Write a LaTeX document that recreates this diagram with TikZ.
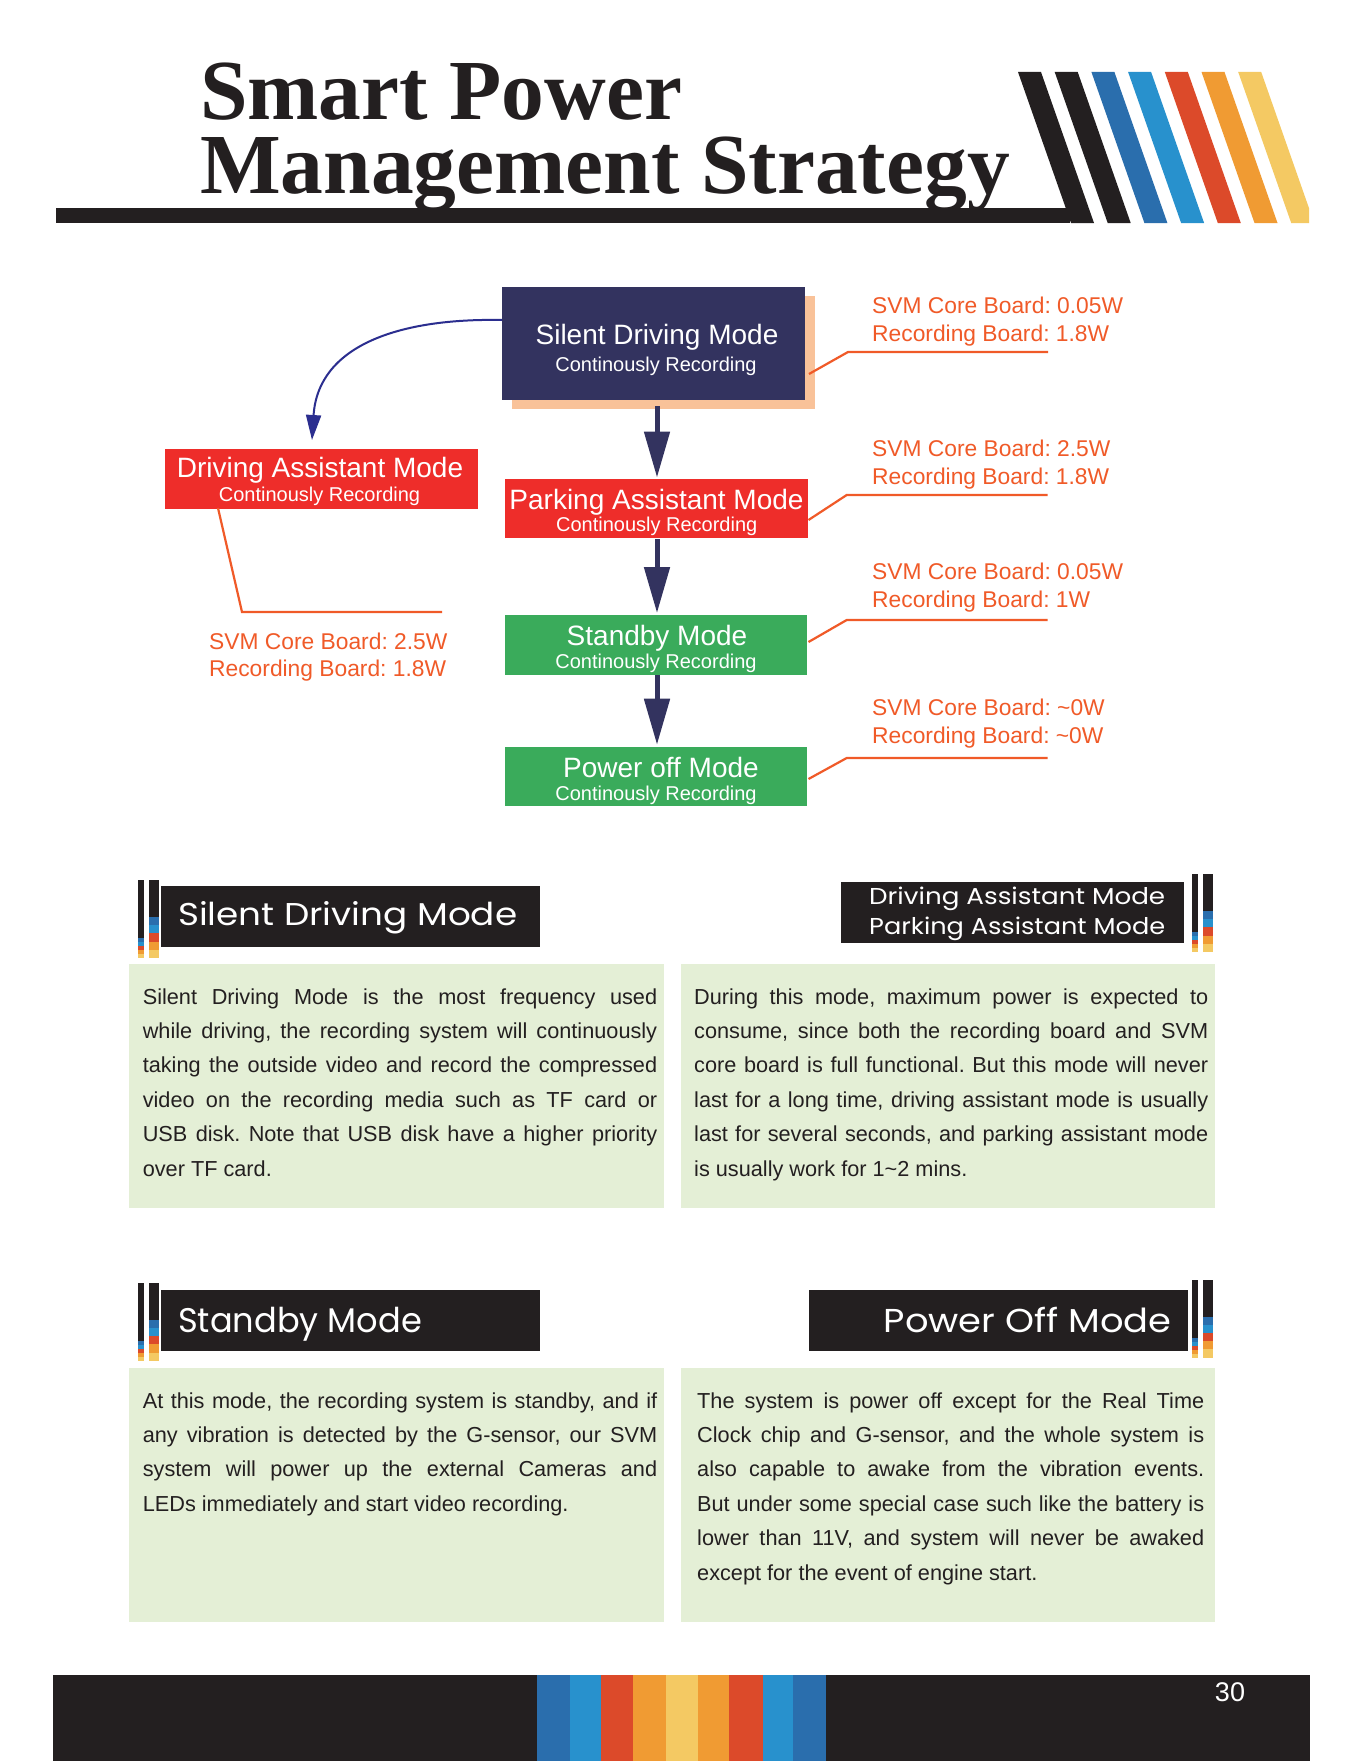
\documentclass[tikz,border=0pt]{standalone}
\usepackage{fontspec}
\usepackage{graphicx}
\setmainfont{Liberation Sans}
\newfontfamily\titlefont{Liberation Serif}
\newfontfamily\headfont{Poppins}
\usetikzlibrary{arrows.meta,shadows,calc}
\frenchspacing
\definecolor{navy}{HTML}{33335F}
\definecolor{peach}{HTML}{F9C299}
\definecolor{boxred}{HTML}{EE2D2A}
\definecolor{boxgreen}{HTML}{3AAB5B}
\definecolor{lblorange}{HTML}{F05A28}
\definecolor{curveblue}{HTML}{2B2E8F}
\definecolor{panelgreen}{HTML}{E4EFD6}
\definecolor{ink}{HTML}{231F20}
\definecolor{sdblue}{HTML}{2A6EAD}
\definecolor{slblue}{HTML}{2891CD}
\definecolor{sred}{HTML}{DC4A2A}
\definecolor{sorange}{HTML}{F09B33}
\definecolor{syellow}{HTML}{F4C963}
\tikzset{
  modebox/.style={rectangle, inner sep=0pt, outer sep=0pt},
  boxtitle/.style={text=white, inner sep=0pt, anchor=base, font=\fontsize{28}{30}\selectfont},
  boxsub/.style={text=white, inner sep=0pt, anchor=base, font=\fontsize{20}{22}\selectfont},
  lbl/.style={text=lblorange, inner sep=0pt, anchor=base west, font=\fontsize{22.8}{25}\selectfont},
  conn/.style={draw=lblorange, line width=2.2pt},
  varrow/.style={draw=navy, line width=5pt, -{Triangle[length=46pt,width=25pt]}},
  curvearrow/.style={draw=curveblue, line width=2pt, -{Triangle[length=25pt,width=15pt]}},
  headtext/.style={text=white, inner sep=0pt, font=\headfont\fontsize{30}{32}\selectfont},
  paratext/.style={text=ink, inner sep=0pt, anchor=north west, align=justify,
     font=\fontsize{21.7}{34.4}\selectfont},
  sidebars/.pic={
    \fill[ink] (0,0) rectangle (6,58);
    \fill[sdblue] (0,58) rectangle (6,62);
    \fill[slblue] (0,62) rectangle (6,66);
    \fill[sred] (0,66) rectangle (6,70);
    \fill[sorange] (0,70) rectangle (6,74);
    \fill[syellow] (0,74) rectangle (6,78);
    \fill[ink] (11,0) rectangle (21,37);
    \fill[sdblue] (11,37) rectangle (21,45.2);
    \fill[slblue] (11,45.2) rectangle (21,53.4);
    \fill[sred] (11,53.4) rectangle (21,61.6);
    \fill[sorange] (11,61.6) rectangle (21,69.8);
    \fill[syellow] (11,69.8) rectangle (21,78);
  }
}
\begin{document}
\begin{tikzpicture}[x=1pt,y=-1pt]
\useasboundingbox (0,0) rectangle (1361,1761);
\fill[white] (0,0) rectangle (1361,1761);

% ---------- title ----------
\node[anchor=base west, inner sep=0pt, align=left, text=ink, font=\titlefont\bfseries\fontsize{85.5}{74}\selectfont] (title) at (200,193) {Smart Power\\Management Strategy};
\fill[ink] (56,208) rectangle (1070,223);
\begin{scope}
  \clip (0,0) rectangle (1309,240);
  \foreach \i/\c in {0/ink,1/ink,2/sdblue,3/slblue,4/sred,5/sorange,6/syellow}{
    \fill[\c] ({1018+36.7*\i},72) -- ({1041+36.7*\i},72) -- ({1094+36.7*\i},223) -- ({1071+36.7*\i},223) -- cycle;
  }
\end{scope}

% ---------- mode boxes ----------
\node[modebox, fill=navy, minimum width=303pt, minimum height=113pt,
      drop shadow={shadow xshift=10pt, shadow yshift=-9pt, fill=peach, opacity=1}] (silent) at (653.5,343.5) {};
\node[modebox, fill=boxred, minimum width=313pt, minimum height=60pt] (da) at (321.5,479) {};
\node[modebox, fill=boxred, minimum width=303pt, minimum height=59.5pt] (parking) at (656.5,508.25) {};
\node[modebox, fill=boxgreen, minimum width=302pt, minimum height=60pt] (standby) at (656,645) {};
\node[modebox, fill=boxgreen, minimum width=302pt, minimum height=59.6pt] (poweroff) at (656,776.5) {};

\node[boxtitle] (silentT) at (657,344) {Silent Driving Mode};
\node[boxsub] (silentS) at (656,371) {Continously Recording};
\node[boxtitle] (daT) at (320,477.7) {Driving Assistant Mode};
\node[boxsub] (daS) at (319.5,501.7) {Continously Recording};
\node[boxtitle] (parkT) at (656.5,509) {Parking Assistant Mode};
\node[boxsub] (parkS) at (656.7,531.7) {Continously Recording};
\node[boxtitle] (stT) at (657,645.5) {Standby Mode};
\node[boxsub] (stS) at (656,668) {Continously Recording};
\node[boxtitle] (poT) at (661,777) {Power off Mode};
\node[boxsub] (poS) at (656,800) {Continously Recording};

% arrows
\draw[varrow] ([xshift=3.5pt,yshift=-6pt]silent.south) -- ([xshift=0.5pt,yshift=1pt]parking.north);
\draw[varrow] ([xshift=0.5pt,yshift=-1pt]parking.south) -- ([xshift=1pt,yshift=2pt]standby.north);
\draw[varrow] ([xshift=1pt]standby.south) -- ([xshift=1pt,yshift=2pt]poweroff.north);
\draw[curvearrow] ([yshift=23.5pt]silent.west) .. controls (400,318) and (318,345) .. ([xshift=-9.5pt,yshift=9pt]da.north);

% orange connectors
\coordinate (k1) at (848,352);   \coordinate (e1) at (1048,352);
\coordinate (k2) at (846.7,495); \coordinate (e2) at (1047.6,495);
\coordinate (k3) at (846.7,620); \coordinate (e3) at (1047.6,620);
\coordinate (k4) at (846.7,758); \coordinate (e4) at (1047.6,758);
\coordinate (k5) at (242,612);   \coordinate (e5) at (442,612);
\draw[conn] ([xshift=4pt,yshift=-30.5pt]silent.east) -- (k1) -- (e1);
\draw[conn] ([xshift=0.5pt,yshift=-11.75pt]parking.east) -- (k2) -- (e2);
\draw[conn] ([xshift=1.5pt,yshift=3pt]standby.east) -- (k3) -- (e3);
\draw[conn] ([xshift=1.5pt,yshift=-2.5pt]poweroff.east) -- (k4) -- (e4);
\draw[conn] ([xshift=-103.5pt,yshift=1pt]da.south) -- (k5) -- (e5);

% labels
\node[lbl] (l1a) at (872,313.5) {SVM Core Board: 0.05W};
\node[lbl] (l1b) at (872,341.5) {Recording Board: 1.8W};
\node[lbl] (l2a) at (872,456) {SVM Core Board: 2.5W};
\node[lbl] (l2b) at (872,484) {Recording Board: 1.8W};
\node[lbl] (l3a) at (872,579) {SVM Core Board: 0.05W};
\node[lbl] (l3b) at (872,607) {Recording Board: 1W};
\node[lbl] (l4a) at (872,715.5) {SVM Core Board: \textasciitilde0W};
\node[lbl] (l4b) at (872,743.5) {Recording Board: \textasciitilde0W};
\node[lbl] (l5a) at (209,649) {SVM Core Board: 2.5W};
\node[lbl] (l5b) at (209,676.5) {Recording Board: 1.8W};

% ---------- section headers ----------
\fill[ink] (161,886) rectangle (540,946.7);
\pic at (138,880) {sidebars};
\node[headtext, anchor=base west] (h1) at (178,925) {\resizebox{339pt}{24pt}{Silent Driving Mode}};

\fill[ink] (841,882) rectangle (1184,942.7);
\pic at (1192,874) {sidebars};
\node[headtext, anchor=base west] (h2a) at (869,904.3) {\resizebox{296pt}{17.5pt}{Driving Assistant Mode}};
\node[headtext, anchor=base west] (h2b) at (869,934) {\resizebox{296pt}{17.5pt}{Parking Assistant Mode}};

\fill[ink] (161,1290) rectangle (540,1350.7);
\pic at (138,1282.7) {sidebars};
\node[headtext, anchor=base west] (h3) at (178,1332) {\resizebox{243.7pt}{25.3pt}{Standby Mode}};

\fill[ink] (809,1290) rectangle (1188,1350.7);
\pic at (1192,1279.5) {sidebars};
\node[headtext, anchor=base east] (h4) at (1171.7,1332) {\resizebox{287.7pt}{25.3pt}{Power Off Mode}};

% ---------- panels ----------
\fill[panelgreen] (129,963.5) rectangle (663.6,1208);
\fill[panelgreen] (680.5,963.5) rectangle (1215,1208);
\fill[panelgreen] (129,1368) rectangle (663.6,1621.5);
\fill[panelgreen] (680.5,1368) rectangle (1215,1621.5);

\node[paratext, text width=514.4pt] (p1) at (142.6,979.9) {\noindent\hyphenpenalty10000\strut
Silent Driving Mode is the most frequency used\linebreak
while driving, the recording system will continuously\linebreak
taking the outside video and record the compressed\linebreak
video on the recording media such as TF card or\linebreak
USB disk. Note that USB disk have a higher priority\linebreak
over TF card.};

\node[paratext, text width=514pt] (p2) at (694,979.9) {\noindent\hyphenpenalty10000\strut
During this mode, maximum power is expected to\linebreak
consume, since both the recording board and SVM\linebreak
core board is full functional. But this mode will never\linebreak
last for a long time, driving assistant mode is usually\linebreak
last for several seconds, and parking assistant mode\linebreak
is usually work for 1\textasciitilde2 mins.};

\node[paratext, text width=514.4pt] (p3) at (142.6,1383.9) {\noindent\hyphenpenalty10000\strut
At this mode, the recording system is standby, and if\linebreak
any vibration is detected by the G-sensor, our SVM\linebreak
system will power up the external Cameras and\linebreak
LEDs immediately and start video recording.};

\node[paratext, text width=507pt] (p4) at (697,1383.9) {\noindent\hyphenpenalty10000\strut
The system is power off except for the Real Time\linebreak
Clock chip and G-sensor, and the whole system is\linebreak
also capable to awake from the vibration events.\linebreak
But under some special case such like the battery is\linebreak
lower than 11V, and system will never be awaked\linebreak
except for the event of engine start.};

% ---------- footer ----------
\fill[ink] (53,1675) rectangle (1310,1761);
\fill[sdblue] (537,1675) rectangle (570,1761);
\fill[slblue] (570,1675) rectangle (601,1761);
\fill[sred] (601,1675) rectangle (633,1761);
\fill[sorange] (633,1675) rectangle (666,1761);
\fill[syellow] (666,1675) rectangle (698,1761);
\fill[sorange] (698,1675) rectangle (729,1761);
\fill[sred] (729,1675) rectangle (763,1761);
\fill[slblue] (763,1675) rectangle (793,1761);
\fill[sdblue] (793,1675) rectangle (826,1761);
\node[anchor=base, inner sep=0pt, text=white, font=\fontsize{27}{29}\selectfont] (pagenum) at (1230,1701) {30};
\end{tikzpicture}
\end{document}
